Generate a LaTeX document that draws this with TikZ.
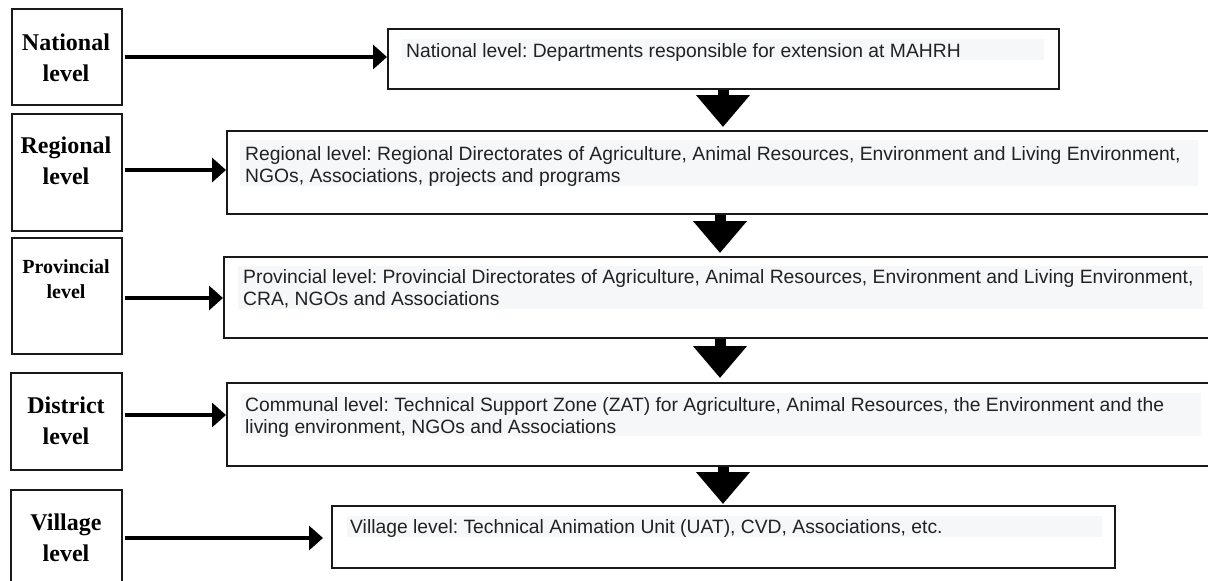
\documentclass[tikz,border=0pt]{standalone}
\usepackage{fontspec}
\setmainfont{Liberation Sans}
\newfontfamily\serifb{Liberation Serif}
\usetikzlibrary{arrows.meta}
\definecolor{band}{HTML}{F6F7F9}
\definecolor{txt}{HTML}{222222}
\frenchspacing
\begin{document}
\begin{tikzpicture}[x=1pt,y=-1pt,
 lbox/.style={draw=black!90, line width=1.5pt, inner sep=0pt, anchor=north west},
 rbox/.style={draw=black!90, line width=1.5pt, inner sep=0pt, anchor=north west},
 lab/.style={font=\serifb\bfseries\fontsize{24}{31}\selectfont, align=center, anchor=north, inner sep=0pt},
 labs/.style={font=\serifb\bfseries\fontsize{20}{25}\selectfont, align=center, anchor=north, inner sep=0pt},
 desc/.style={font=\fontsize{19.3}{22}\selectfont, text=txt, align=left, anchor=north west, inner sep=0pt},
 harrow/.style={line width=4.5pt, -{Triangle[length=14pt,width=24pt]}, shorten <=2pt},
 varrow/.style={line width=11pt, -{Triangle[length=32pt,width=52pt]}}
]
\useasboundingbox (0,0) rectangle (1208,581);
\clip (0,0) rectangle (1208,581);
% left level boxes
\node[lbox, minimum width=110pt, minimum height=96pt] (natL) at (11,8) {};
\node[lbox, minimum width=110pt, minimum height=117pt] (regL) at (11,113) {};
\node[lbox, minimum width=110pt, minimum height=116pt] (proL) at (11,237) {};
\node[lbox, minimum width=111pt, minimum height=97pt] (disL) at (10,372) {};
\node[lbox, minimum width=111pt, minimum height=110pt] (vilL) at (10,489) {};
% right description boxes
\node[rbox, minimum width=671pt, minimum height=60pt] (natR) at (387,28) {};
\node[rbox, minimum width=1000pt, minimum height=83pt] (regR) at (226,130) {};
\node[rbox, minimum width=1000pt, minimum height=81pt] (proR) at (223,256) {};
\node[rbox, minimum width=1000pt, minimum height=83pt] (disR) at (226,382) {};
\node[rbox, minimum width=783pt, minimum height=62pt] (vilR) at (331,505) {};
% shading bands behind text
\fill[band] (402,39) rectangle (1044,60);
\fill[band] (240,140) rectangle (1198,186);
\fill[band] (238,266) rectangle (1203,309);
\fill[band] (241,393) rectangle (1201,436);
\fill[band] (347,516) rectangle (1102,537);
% left labels
\node[lab] (natLt) at (66,32) {\rule{0pt}{18pt}National\\level};
\node[lab] (regLt) at (66,135) {\rule{0pt}{18pt}Regional\\level};
\node[labs] (proLt) at (66,258) {\rule{0pt}{15pt}Provincial\\level};
\node[lab] (disLt) at (66,395) {\rule{0pt}{18pt}District\\level};
\node[lab] (vilLt) at (66,512) {\rule{0pt}{18pt}Village\\level};
% right texts
\node[desc] (natT) at (406,42) {\rule{0pt}{15pt}National level: Departments responsible for extension at MAHRH};
\node[desc] (regT) at (245,145) {\rule{0pt}{15pt}Regional level: Regional Directorates of Agriculture, Animal Resources, Environment and Living Environment,\\NGOs, Associations, projects and programs};
\node[desc] (proT) at (243,268) {\rule{0pt}{15pt}Provincial level: Provincial Directorates of Agriculture, Animal Resources, Environment and Living Environment,\\CRA, NGOs and Associations};
\node[desc] (disT) at (245,396) {\rule{0pt}{15pt}Communal level: Technical Support Zone (ZAT) for Agriculture, Animal Resources, the Environment and the\\living environment, NGOs and Associations};
\node[desc] (vilT) at (350,518) {\rule{0pt}{15pt}Village level: Technical Animation Unit (UAT), CVD, Associations, etc.};
% helper coordinates
\coordinate (h1) at (0,57);
\coordinate (h2) at (0,170);
\coordinate (h3) at (0,298);
\coordinate (h4) at (0,415);
\coordinate (h5) at (0,538);
\coordinate (v1) at (723,0);
\coordinate (v2) at (720,0);
\coordinate (v3) at (720,0);
\coordinate (v4) at (723,0);
% horizontal arrows
\draw[harrow] (natL.east |- h1) -- (natR.west |- h1);
\draw[harrow] (regL.east |- h2) -- (regR.west |- h2);
\draw[harrow] (proL.east |- h3) -- (proR.west |- h3);
\draw[harrow] (disL.east |- h4) -- (disR.west |- h4);
\draw[harrow, shorten >=8pt] (vilL.east |- h5) -- (vilR.west |- h5);
% vertical block arrows
\draw[varrow, shorten >=3pt] (natR.south -| v1) -- (regR.north -| v1);
\draw[varrow, shorten >=3pt] (regR.south -| v2) -- (proR.north -| v2);
\draw[varrow, shorten >=4pt] (proR.south -| v3) -- (disR.north -| v3);
\draw[varrow, shorten >=1pt] (disR.south -| v4) -- (vilR.north -| v4);
\end{tikzpicture}
\end{document}
